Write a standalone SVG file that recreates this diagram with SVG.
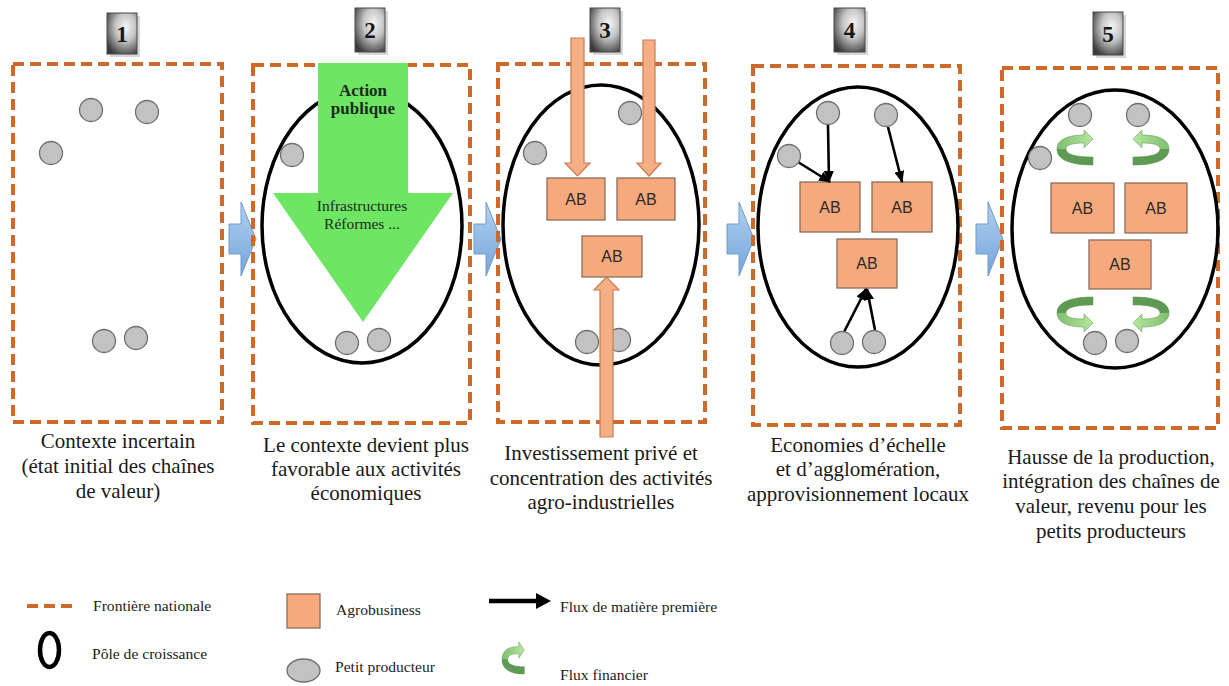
<svg xmlns="http://www.w3.org/2000/svg" width="1229" height="686" viewBox="0 0 1229 686">
<defs>
<radialGradient id="numG" cx="0.62" cy="0.35" r="0.75">
<stop offset="0" stop-color="#f6f6f6"/><stop offset="0.45" stop-color="#c4c4c4"/><stop offset="1" stop-color="#3a3a3a"/>
</radialGradient>
<linearGradient id="blueG" x1="0" y1="0" x2="0" y2="1">
<stop offset="0" stop-color="#b2d1f0"/><stop offset="1" stop-color="#74a4da"/>
</linearGradient>
<linearGradient id="finG" x1="0" y1="0" x2="1" y2="0">
<stop offset="0" stop-color="#7fbf6e"/><stop offset="1" stop-color="#b7e6a0"/>
</linearGradient>
<marker id="blk" viewBox="0 0 12 10" refX="11" refY="5" markerWidth="12" markerHeight="10" markerUnits="userSpaceOnUse" orient="auto">
<path d="M0,0 L12,5 L0,10 Z" fill="#000"/>
</marker>
<path id="fin" d="M36 11 L27 2 L27 7 C10 7 0 12 0 21 C0 31 12 37 36 37 L36 29 C17 29 9 26 9 21 C9 17 15 15 27 15 L27 20 Z"/>
<path id="finBack" d="M0 21 C0 31 12 37 36 37 L36 29 C17 29 9 26 9 21 Z"/>
<style>
.frontier{fill:none;stroke:#cd6a2a;stroke-width:4;stroke-dasharray:11 6}
.pole{fill:none;stroke:#000;stroke-width:3.5}
.prod{fill:#c2c2c2;stroke:#6e6e6e;stroke-width:1.3}
.ab{fill:#f5a97c;stroke:#8a6e5e;stroke-width:1.3}
.abt{font-family:"Liberation Sans",Arial,sans-serif;font-size:16px;fill:#2a2a2a;text-anchor:middle}
.numbox{fill:url(#numG);stroke:#4a4a4a;stroke-width:1}
.numshadow{fill:#bdbdbd;opacity:0.6}
.numt{font-family:"Liberation Serif","Times New Roman",serif;font-size:23px;font-weight:bold;fill:#161616;text-anchor:middle}
.lbl{font-family:"Liberation Serif","Times New Roman",serif;font-size:21px;fill:#1a1a1a;text-anchor:middle}
.leg{font-family:"Liberation Serif","Times New Roman",serif;font-size:15.6px;fill:#222}
.step{fill:url(#blueG);stroke:#6f9bd0;stroke-width:1}
.invest{fill:#f6ae84;stroke:#c97c52;stroke-width:1.2}
.flow{stroke:#000;stroke-width:2.6;fill:none;marker-end:url(#blk)}
.finF{fill:url(#finG);stroke:#6a9e5c;stroke-width:0.6}
.finB{fill:#5f9a55}
.pub{font-family:"Liberation Serif","Times New Roman",serif;fill:#1c2a1c;text-anchor:middle}
</style>
</defs>
<rect width="1229" height="686" fill="#fff"/>

<!-- step arrows between panels -->
<g id="connectors">
<path class="step" d="M229 224 L241 224 L241 202 L256 239 L241 276 L241 254 L229 254 Z"/>
<path class="step" d="M474 224 L486 224 L486 202 L501 239 L486 276 L486 254 L474 254 Z"/>
<path class="step" d="M727 224 L739 224 L739 202 L754 239 L739 276 L739 254 L727 254 Z"/>
<path class="step" d="M976 224 L988 224 L988 202 L1003 239 L988 276 L988 254 L976 254 Z"/>
</g>

<!-- Panel 1 -->
<g id="panel1">
<rect class="frontier" x="13" y="64" width="209" height="358"/>
<rect class="numshadow" x="110" y="16" width="30" height="41"/>
<rect class="numbox" x="107" y="13" width="30" height="41"/>
<text class="numt" x="122" y="42">1</text>
<circle class="prod" cx="91" cy="110" r="11.5"/>
<circle class="prod" cx="147" cy="112" r="11.5"/>
<circle class="prod" cx="51" cy="153" r="11.5"/>
<circle class="prod" cx="104" cy="341" r="11.5"/>
<circle class="prod" cx="136" cy="338" r="11.5"/>
<text class="lbl" x="118" y="448">Contexte incertain</text>
<text class="lbl" x="118" y="473">(état initial des chaînes</text>
<text class="lbl" x="118" y="498">de valeur)</text>
</g>

<!-- Panel 2 -->
<g id="panel2">
<rect class="frontier" x="253" y="65" width="217" height="358"/>
<ellipse class="pole" cx="362" cy="226" rx="100" ry="137"/>
<path d="M318 63 L408 63 L408 193 L453 193 L363 322 L273 193 L318 193 Z" fill="#6ee664"/>
<rect class="numshadow" x="358" y="11" width="30" height="44"/>
<rect class="numbox" x="355" y="8" width="30" height="44"/>
<text class="numt" x="370" y="38">2</text>
<circle class="prod" cx="292" cy="155" r="11.5"/>
<circle class="prod" cx="347" cy="343" r="11.5"/>
<circle class="prod" cx="379" cy="340" r="11.5"/>
<text class="pub" x="363" y="96" font-size="17" font-weight="bold">Action</text>
<text class="pub" x="363" y="114" font-size="17" font-weight="bold">publique</text>
<text class="pub" x="362" y="211" font-size="15.5">Infrastructures</text>
<text class="pub" x="362" y="229" font-size="15.5">Réformes ...</text>
<text class="lbl" x="366" y="452">Le contexte devient plus</text>
<text class="lbl" x="366" y="476">favorable aux activités</text>
<text class="lbl" x="366" y="500">économiques</text>
</g>

<!-- Panel 3 -->
<g id="panel3">
<rect class="frontier" x="498" y="64" width="207" height="358"/>
<ellipse class="pole" cx="601" cy="225" rx="98" ry="140"/>
<circle class="prod" cx="535" cy="153" r="11.5"/>
<circle class="prod" cx="630" cy="113" r="11.5"/>
<circle class="prod" cx="587" cy="342" r="11.5"/>
<circle class="prod" cx="619" cy="340" r="11.5"/>
<rect class="ab" x="547" y="178" width="58" height="42"/>
<text class="abt" x="576" y="205">AB</text>
<rect class="ab" x="617" y="178" width="58" height="42"/>
<text class="abt" x="646" y="205">AB</text>
<rect class="ab" x="582" y="236" width="60" height="41"/>
<text class="abt" x="612" y="262">AB</text>
<rect class="numshadow" x="593" y="11" width="30" height="44"/>
<rect class="numbox" x="590" y="8" width="30" height="44"/>
<text class="numt" x="605" y="38">3</text>
<path class="invest" d="M571 38 L584 38 L584 163 L590 163 L577.5 176 L565 163 L571 163 Z"/>
<path class="invest" d="M643 40 L655 40 L655 163 L661 163 L649 176 L637 163 L643 163 Z"/>
<path class="invest" d="M600 437 L613 437 L613 290 L619 290 L606.5 277 L594 290 L600 290 Z"/>
<text class="lbl" x="601" y="460">Investissement privé et</text>
<text class="lbl" x="601" y="485">concentration des activités</text>
<text class="lbl" x="601" y="509">agro-industrielles</text>
</g>

<!-- Panel 4 -->
<g id="panel4">
<rect class="frontier" x="753" y="66" width="207" height="359"/>
<ellipse class="pole" cx="858" cy="227" rx="100" ry="140"/>
<rect class="numshadow" x="837" y="11" width="31" height="44"/>
<rect class="numbox" x="834" y="8" width="31" height="44"/>
<text class="numt" x="849.5" y="38">4</text>
<rect class="ab" x="800" y="182" width="60" height="50"/>
<text class="abt" x="830" y="213">AB</text>
<rect class="ab" x="872" y="182" width="60" height="50"/>
<text class="abt" x="902" y="213">AB</text>
<rect class="ab" x="837" y="239" width="60" height="49"/>
<text class="abt" x="867" y="269">AB</text>
<line class="flow" x1="828" y1="125" x2="829" y2="182"/>
<line class="flow" x1="888" y1="127" x2="902" y2="182"/>
<line class="flow" x1="798" y1="162" x2="830" y2="182"/>
<line class="flow" x1="844" y1="332" x2="866" y2="289"/>
<line class="flow" x1="875" y1="330" x2="867" y2="289"/>
<circle class="prod" cx="828" cy="113" r="11.5"/>
<circle class="prod" cx="886" cy="115" r="11.5"/>
<circle class="prod" cx="789" cy="156" r="11.5"/>
<circle class="prod" cx="842" cy="343" r="11.5"/>
<circle class="prod" cx="874" cy="342" r="11.5"/>
<text class="lbl" x="858" y="452">Economies d’échelle</text>
<text class="lbl" x="858" y="476">et d’agglomération,</text>
<text class="lbl" x="858" y="501">approvisionnement locaux</text>
</g>

<!-- Panel 5 -->
<g id="panel5">
<rect class="frontier" x="1002" y="68" width="216" height="360"/>
<ellipse class="pole" cx="1115" cy="229" rx="103" ry="139"/>
<rect class="numshadow" x="1096" y="15" width="30" height="43"/>
<rect class="numbox" x="1093" y="12" width="30" height="43"/>
<text class="numt" x="1108" y="42">5</text>
<circle class="prod" cx="1080" cy="115" r="11.5"/>
<circle class="prod" cx="1138" cy="115" r="11.5"/>
<circle class="prod" cx="1040" cy="158" r="11.5"/>
<circle class="prod" cx="1095" cy="343" r="11.5"/>
<circle class="prod" cx="1127" cy="341" r="11.5"/>
<rect class="ab" x="1051" y="183" width="63" height="50"/>
<text class="abt" x="1082.5" y="214">AB</text>
<rect class="ab" x="1125" y="183" width="62" height="50"/>
<text class="abt" x="1156" y="214">AB</text>
<rect class="ab" x="1089" y="240" width="62" height="49"/>
<text class="abt" x="1120" y="270">AB</text>
<g transform="translate(1057,128)"><use href="#fin" class="finF"/><use href="#finBack" class="finB"/></g>
<g transform="translate(1169,128) scale(-1,1)"><use href="#fin" class="finF"/><use href="#finBack" class="finB"/></g>
<g transform="translate(1057,334) scale(1,-1)"><use href="#fin" class="finF"/><use href="#finBack" class="finB"/></g>
<g transform="translate(1169,334) scale(-1,-1)"><use href="#fin" class="finF"/><use href="#finBack" class="finB"/></g>
<text class="lbl" x="1111" y="464">Hausse de la production,</text>
<text class="lbl" x="1111" y="488">intégration des chaînes de</text>
<text class="lbl" x="1111" y="513">valeur, revenu pour les</text>
<text class="lbl" x="1111" y="538">petits producteurs</text>
</g>

<!-- Legend -->
<g id="legend">
<line x1="27" y1="606" x2="76" y2="606" stroke="#cd6a2a" stroke-width="4" stroke-dasharray="11 6"/>
<text class="leg" x="93" y="611">Frontière nationale</text>
<ellipse cx="49.5" cy="650" rx="9.5" ry="17" fill="none" stroke="#000" stroke-width="4.5"/>
<text class="leg" x="92" y="659">Pôle de croissance</text>
<rect class="ab" x="287" y="594" width="33" height="34"/>
<text class="leg" x="336" y="615">Agrobusiness</text>
<ellipse class="prod" cx="303.5" cy="670.5" rx="16.5" ry="11.5"/>
<text class="leg" x="335" y="672">Petit producteur</text>
<line x1="489" y1="601" x2="538" y2="601" stroke="#000" stroke-width="4.5"/>
<path d="M536 593 L551 601 L536 609 Z" fill="#000"/>
<text class="leg" x="560" y="612">Flux de matière première</text>
<g transform="translate(502,640) scale(0.62,0.92)"><use href="#fin" class="finF"/><use href="#finBack" class="finB"/></g>
<text class="leg" x="560" y="680">Flux financier</text>
</g>
</svg>
